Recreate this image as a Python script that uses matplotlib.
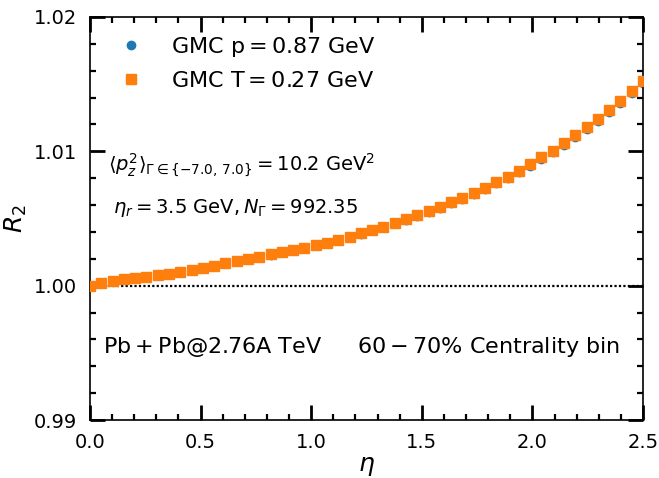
import numpy as np
import matplotlib
matplotlib.use("Agg")
import matplotlib.pyplot as plt
from matplotlib.ticker import MultipleLocator, FormatStrFormatter

eta = np.linspace(0.0, 2.5, 50)

r2_gmc_T = [1.00000, 1.00020, 1.00035, 1.00046, 1.00056, 1.00067, 1.00078, 1.00090,
            1.00105, 1.00120, 1.00134, 1.00150, 1.00166, 1.00182, 1.00198, 1.00215,
            1.00233, 1.00250, 1.00267, 1.00284, 1.00302, 1.00320, 1.00340, 1.00364,
            1.00390, 1.00415, 1.00440, 1.00469, 1.00497, 1.00526, 1.00556, 1.00588,
            1.00623, 1.00656, 1.00692, 1.00730, 1.00771, 1.00812, 1.00856, 1.00905,
            1.00955, 1.01005, 1.01060, 1.01119, 1.01179, 1.01243, 1.01308, 1.01378,
            1.01452, 1.01526]

r2_gmc_p = [1.00000, 1.00020, 1.00035, 1.00046, 1.00056, 1.00067, 1.00078, 1.00090,
            1.00105, 1.00120, 1.00134, 1.00150, 1.00166, 1.00182, 1.00198, 1.00214,
            1.00232, 1.00249, 1.00265, 1.00282, 1.00300, 1.00317, 1.00337, 1.00361,
            1.00386, 1.00411, 1.00435, 1.00464, 1.00491, 1.00520, 1.00549, 1.00581,
            1.00615, 1.00648, 1.00683, 1.00721, 1.00761, 1.00802, 1.00845, 1.00894,
            1.00943, 1.00993, 1.01047, 1.01106, 1.01165, 1.01229, 1.01293, 1.01363,
            1.01436, 1.01509]

label_p = r"GMC $\mathrm{p = 0.87\ GeV}$"
label_T = r"GMC $\mathrm{T = 0.27\ GeV}$"

fig = plt.figure(figsize=(6.59, 4.78), dpi=100)
ax = fig.add_axes([90/659, 1-420/478, 553/659, 403/478])

ax.axhline(1.0, color="black", linestyle=(0, (1, 1)), linewidth=1.6, zorder=1)
ax.plot(eta, r2_gmc_p, linestyle="none", marker="o", ms=6, color="#1f77b4", label=label_p, zorder=2)
ax.plot(eta, r2_gmc_T, linestyle="none", marker="s", ms=6.5, color="#ff7f0e", label=label_T, zorder=3)

ax.set_xlim(0.0, 2.5)
ax.set_ylim(0.99, 1.02)
ax.xaxis.set_major_locator(MultipleLocator(0.5))
ax.xaxis.set_minor_locator(MultipleLocator(0.1))
ax.yaxis.set_major_locator(MultipleLocator(0.01))
ax.yaxis.set_minor_locator(MultipleLocator(0.002))
ax.xaxis.set_major_formatter(FormatStrFormatter("%.1f"))
ax.yaxis.set_major_formatter(FormatStrFormatter("%.2f"))
ax.tick_params(which="both", direction="in", top=True, right=True, labelsize=14)
ax.tick_params(which="major", length=10.5, width=2.0, pad=9)
ax.tick_params(which="minor", length=4.5, width=1.6)
for s in ax.spines.values():
    s.set_linewidth(1.2)

ax.set_xlabel(r"$\eta$", fontsize=18, labelpad=2)
ax.set_ylabel(r"$R_2$", fontsize=18)

leg = ax.legend(loc="upper left", frameon=False, fontsize=16, handletextpad=0.76,
                labelspacing=0.52, borderaxespad=0.0, bbox_to_anchor=(0.0186, 0.977))

ax.text(0.080, 1.00862, r"$\langle p_z^2\rangle_{\Gamma \in \{-7.0,\,7.0\}} = 10.2\ \mathrm{GeV}^2$",
        fontsize=14, va="baseline")
ax.text(0.103, 1.00541, r"$\eta_r = 3.5\ \mathrm{GeV}, N_\Gamma = 992.35$",
        fontsize=14, va="baseline")
ax.text(0.057, 0.99499, r"$\mathrm{Pb+Pb@2.76A\ TeV}$", fontsize=16, va="baseline")
ax.text(1.205, 0.99499, r"$60-70\%$ Centrality bin", fontsize=16, va="baseline")

fig.savefig("out.png", dpi=100)
